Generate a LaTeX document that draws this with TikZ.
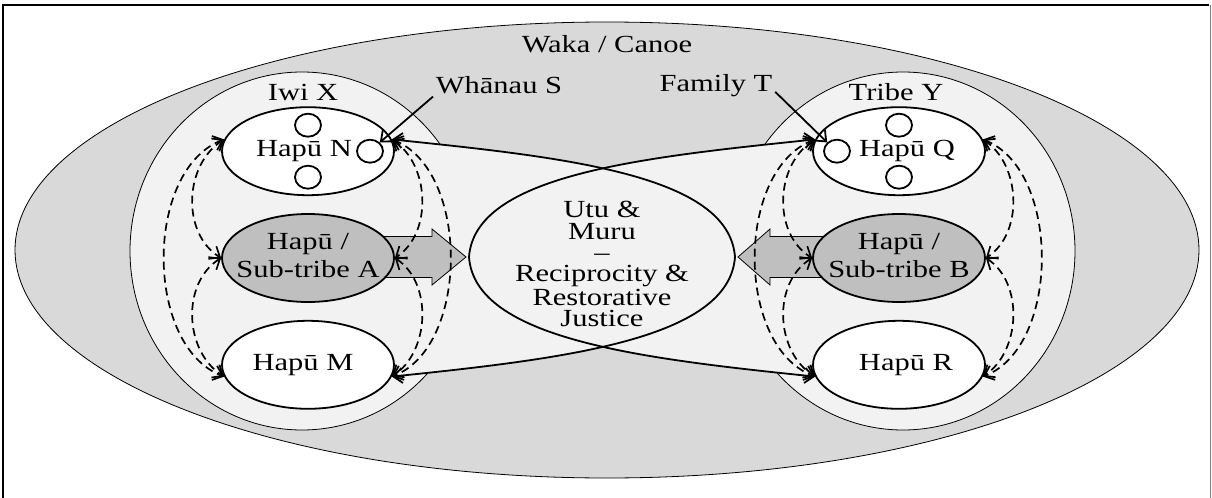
\documentclass[tikz,border=0pt]{standalone}
\usepackage{fontspec}
\setmainfont{Liberation Serif}[FakeStretch=1.24]
\usetikzlibrary{shapes,arrows.meta,positioning,backgrounds}

% keeps the ellipse from growing round wide names
\newcommand{\ctrtext}[1]{\makebox[0pt]{#1}}

\begin{document}
\begin{tikzpicture}[x=0.5pt, y=-0.5pt, node distance=8.5pt, line width=0.9pt,
    >={Straight Barb[length=4.5pt,width=7.5pt]},
    every node/.style={font=\fontsize{12.3}{14}\selectfont}]

    \tikzset{
        hapu/.style={draw=black, ellipse, fill=white, minimum width=86pt, minimum height=44pt, inner sep=0pt},
        subtribe/.style={hapu, fill=black!25},
        whanau/.style={draw=black, ellipse, fill=white, minimum width=13pt, minimum height=11.5pt, inner sep=0pt},
        tribal/.style={draw=black, ellipse, inner sep=0pt},
        grouptitle/.style={inner sep=1pt},
        pointer/.style={->},
        kinlink/.style={<->, dash pattern=on 4pt off 2.5pt, line width=0.85pt},
        lensfill/.style={fill=black!5},
        blockarrow/.style={draw=black, fill=black!25, line join=miter}
    }

    \useasboundingbox (0,0) rectangle (1212,498);

    % Hapu of Iwi X
    \node[subtribe] (hA) at (308,258) {\ctrtext{\begin{tabular}{@{}c@{}}Hapū /\\Sub-tribe A\end{tabular}}};
    \node[hapu, above=of hA] (hN) {\ctrtext{Hapū N\hspace{4pt}}};
    \node[hapu, below=of hA] (hM) {\ctrtext{Hapū M\hspace{5pt}}};

    % Hapu of Tribe Y
    \node[subtribe] (hB) at (899,258) {\ctrtext{\begin{tabular}{@{}c@{}}Hapū /\\Sub-tribe B\end{tabular}}};
    \node[hapu, above=of hB] (hQ) {\ctrtext{\hspace{8pt}Hapū Q}};
    \node[hapu, below=of hB] (hR) {\ctrtext{\hspace{7pt}Hapū R}};

    % whanau inside the hapu
    \node[whanau] (wN1) at ([yshift=13pt]hN.center) {};
    \node[whanau] (wN2) at ([yshift=-13pt]hN.center) {};
    \node[whanau] (wN3) at ([xshift=31pt]hN.center) {};
    \node[whanau] (wQ1) at ([xshift=-31pt]hQ.center) {};
    \node[whanau] (wQ2) at ([yshift=13pt]hQ.center) {};
    \node[whanau] (wQ3) at ([yshift=-13pt]hQ.center) {};

    % titles
    \node[grouptitle] (wakaname) at (607,44) {Waka / Canoe};
    \node[grouptitle] (iwiname) at (303,92) {Iwi X};
    \node[grouptitle] (tribename) at (896,92) {Tribe Y};
    \node[grouptitle] (whS) at (499,85) {Whānau S};
    \node[grouptitle] (famT) at (716,86) {Family T};

    % utu and muru in the middle
    \node[align=center, font=\fontsize{12.3}{10.6}\selectfont] (utu) at (602,264)
        {Utu \&\\Muru\\–\\Reciprocity \&\\Restorative\\Justice};
    \coordinate (ltip) at (469,257);
    \coordinate (rtip) at (735,257);

    \draw[pointer] (whS.south west) -- (wN3.north east);
    \draw[pointer] (famT.base east) -- (wQ1.north west);

    \draw[pointer] (rtip) .. controls +(-6,-82) and +(175,18) .. (hN.8);
    \draw[pointer] (rtip) .. controls +(-6,82) and +(175,-18) .. (hM.-8);
    \draw[pointer] (ltip) .. controls +(6,-82) and +(-175,18) .. (hQ.172);
    \draw[pointer] (ltip) .. controls +(6,82) and +(-175,-18) .. (hR.188);

    % links between the hapu of one iwi
    \foreach \hu/\hm/\hd in {hN/hA/hM, hQ/hB/hR} {
        \draw[kinlink] (\hu.172) .. controls +(-80,30) and +(-80,-30) .. (\hd.188);
        \draw[kinlink] (\hu.172) .. controls +(-40,25) and +(-40,-25) .. (\hm.west);
        \draw[kinlink] (\hm.west) .. controls +(-40,25) and +(-40,-25) .. (\hd.188);
        \draw[kinlink] (\hu.8) .. controls +(78,30) and +(78,-30) .. (\hd.-8);
        \draw[kinlink] (\hu.8) .. controls +(38,25) and +(38,-25) .. (\hm.east);
        \draw[kinlink] (\hm.east) .. controls +(38,25) and +(38,-25) .. (\hd.-8);
    }

    \begin{scope}[on background layer]
        \node[tribal, fill=black!15, minimum width=592pt, minimum height=228pt] (waka) at (607,250) {};
        \node[tribal, fill=black!5, minimum width=172pt, minimum height=179pt] (iwi) at (302,251) {};
        \node[tribal, fill=black!5, minimum width=172pt, minimum height=179pt] (tribe) at (903,251) {};

        \fill[lensfill] (rtip) .. controls +(-6,-82) and +(175,18) .. (hN.8) -- (hM.-8)
            .. controls +(175,-18) and +(-6,82) .. (rtip);
        \fill[lensfill] (ltip) .. controls +(6,-82) and +(-175,18) .. (hQ.172) -- (hR.188)
            .. controls +(-175,-18) and +(6,82) .. (ltip);

        \draw[blockarrow] ([xshift=-1.5pt]ltip) -- ++(-34,-28) -- ++(0,7.5) -- ++(-102,0)
            -- ++(0,41) -- ++(102,0) -- ++(0,7.5) -- cycle;
        \draw[blockarrow] ([xshift=1.5pt]rtip) -- ++(32,-28) -- ++(0,7.5) -- ++(102,0)
            -- ++(0,41) -- ++(-102,0) -- ++(0,7.5) -- cycle;

        \draw[line width=1pt] (3,498) -- (3,5) -- (1209,5);
        \draw[black!50, line width=0.5pt] (1210,5) -- (1210,498);
    \end{scope}

\end{tikzpicture}
\end{document}
